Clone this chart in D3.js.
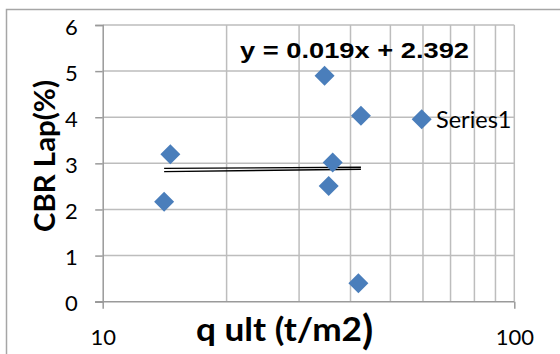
<!DOCTYPE html>
<html>
<head>
<meta charset="utf-8">
<script src="https://cdn.jsdelivr.net/npm/d3@7"></script>
<style>
  html, body { margin: 0; padding: 0; background: #fff; }
  svg { display: block; }
</style>
</head>
<body>
<svg id="chart" width="560" height="354"></svg>
<script>
// Measured points: ultimate bearing capacity vs CBR (lab)
const qUlt = [14.1, 14.6, 34.6, 42.4, 36.2, 35.4, 41.8];
const cbrLab = [2.17, 3.2, 4.9, 4.03, 3.02, 2.51, 0.4];
const seriesName = "Series1";

// Linear trendline as plotted, and its equation label
const trendX = [14.1, 42.4];
const trendUpper = [2.89, 2.915];
const trendLower = [2.82, 2.872];
const equationText = "y = 0.019x + 2.392";

const yTicks = [0, 1, 2, 3, 4, 5, 6];
const xMajorTicks = [10, 100];
const xMinorGrid = [20, 30, 40, 50, 60, 70, 80, 90];

const svg = d3.select("#chart");
const W = 560, H = 354;
const plot = { left: 102.7, right: 514.3, top: 25, bottom: 301.7 };

const x = d3.scaleLog().domain([10, 100]).range([plot.left, plot.right]);
const y = d3.scaleLinear().domain([0, 6]).range([plot.bottom, plot.top]);

const gridColor = "#bdbdbd";
const axisColor = "#9a9a9a";
const markColor = "#4a7ebb";

// Outer chart frame
svg.append("path")
  .attr("d", `M6.5,${H} V9.5 H${W}`)
  .attr("fill", "none")
  .attr("stroke", "#a6a6a6")
  .attr("stroke-width", 1.5);

// Horizontal gridlines
svg.append("g").selectAll("line").data(yTicks.filter(d => d > 0)).join("line")
  .attr("x1", plot.left).attr("x2", plot.right)
  .attr("y1", d => y(d)).attr("y2", d => y(d))
  .attr("stroke", gridColor).attr("stroke-width", 1.5);

// Vertical gridlines (log decade subdivisions)
svg.append("g").selectAll("line").data(xMinorGrid.concat([100])).join("line")
  .attr("x1", d => x(d)).attr("x2", d => x(d))
  .attr("y1", plot.top).attr("y2", plot.bottom)
  .attr("stroke", gridColor).attr("stroke-width", 1.5);

// Y axis
const yAxis = d3.axisLeft(y).tickValues(yTicks).tickSize(7.5).tickPadding(0).tickFormat(d3.format("d"));
const gy = svg.append("g").attr("transform", `translate(${plot.left},0)`).call(yAxis);
gy.select(".domain").attr("stroke", axisColor).attr("stroke-width", 1.5);
gy.selectAll(".tick line").attr("stroke", axisColor).attr("stroke-width", 1.5);
gy.selectAll(".tick text")
  .attr("x", -25).attr("dy", null).attr("y", 9)
  .attr("text-anchor", "end")
  .attr("font-family", "Lato, sans-serif")
  .attr("font-size", 22)
  .attr("fill", "#000");

// X axis (log)
const xAxis = d3.axisBottom(x).tickValues(xMajorTicks).tickSize(7).tickPadding(0).tickFormat(d3.format("d"));
const gx = svg.append("g").attr("transform", `translate(0,${plot.bottom})`).call(xAxis);
gx.select(".domain").attr("stroke", axisColor).attr("stroke-width", 1.5)
  .attr("d", `M${plot.left - 7.5},0H${plot.right}`);
gx.selectAll(".tick line").attr("stroke", axisColor).attr("stroke-width", 1.5);
gx.selectAll(".tick text")
  .attr("y", 43.5).attr("dy", null)
  .attr("font-family", "Lato, sans-serif")
  .attr("font-size", 22)
  .attr("fill", "#000");

// Trendline (drawn as a double stroke)
const trendLine = d3.line().x(d => x(d[0])).y(d => y(d[1]));
[trendUpper, trendLower].forEach(vals => {
  svg.append("path")
    .attr("d", trendLine(trendX.map((v, i) => [v, vals[i]])))
    .attr("fill", "none")
    .attr("stroke", "#000")
    .attr("stroke-width", 1.4);
});

// Diamond markers
const diamond = d3.symbol().type(d3.symbolSquare).size(200);
svg.append("g").selectAll("path").data(qUlt.map((q, i) => [q, cbrLab[i]])).join("path")
  .attr("d", diamond)
  .attr("transform", d => `translate(${x(d[0])},${y(d[1])}) rotate(45)`)
  .attr("fill", markColor);

// Trendline equation
svg.append("text")
  .attr("x", 240).attr("y", 58)
  .attr("font-family", "'Liberation Sans', Arial, sans-serif")
  .attr("font-weight", "bold")
  .attr("font-size", 22)
  .attr("textLength", 229)
  .attr("lengthAdjust", "spacingAndGlyphs")
  .text(equationText);

// Legend
svg.append("path")
  .attr("d", diamond)
  .attr("transform", "translate(421.7,119.3) rotate(45)")
  .attr("fill", markColor);
svg.append("text")
  .attr("x", 436).attr("y", 127.5)
  .attr("font-family", "Lato, sans-serif")
  .attr("font-size", 23.5)
  .attr("fill", "#000")
  .text(seriesName);

// Axis titles
svg.append("text")
  .attr("transform", "translate(55,232) rotate(-90)")
  .attr("font-family", "Lato, sans-serif")
  .attr("font-weight", "bold")
  .attr("font-size", 29)
  .attr("textLength", 152)
  .attr("lengthAdjust", "spacingAndGlyphs")
  .text("CBR Lap(%)");

svg.append("text")
  .attr("x", 196).attr("y", 341)
  .attr("font-family", "Lato, sans-serif")
  .attr("font-weight", "bold")
  .attr("font-size", 32)
  .attr("textLength", 166)
  .attr("lengthAdjust", "spacingAndGlyphs")
  .text("q ult (t/m2");
svg.append("text")
  .attr("x", 362).attr("y", 344)
  .attr("font-family", "Lato, sans-serif")
  .attr("font-weight", "bold")
  .attr("font-size", 41)
  .text(")");
</script>
</body>
</html>
